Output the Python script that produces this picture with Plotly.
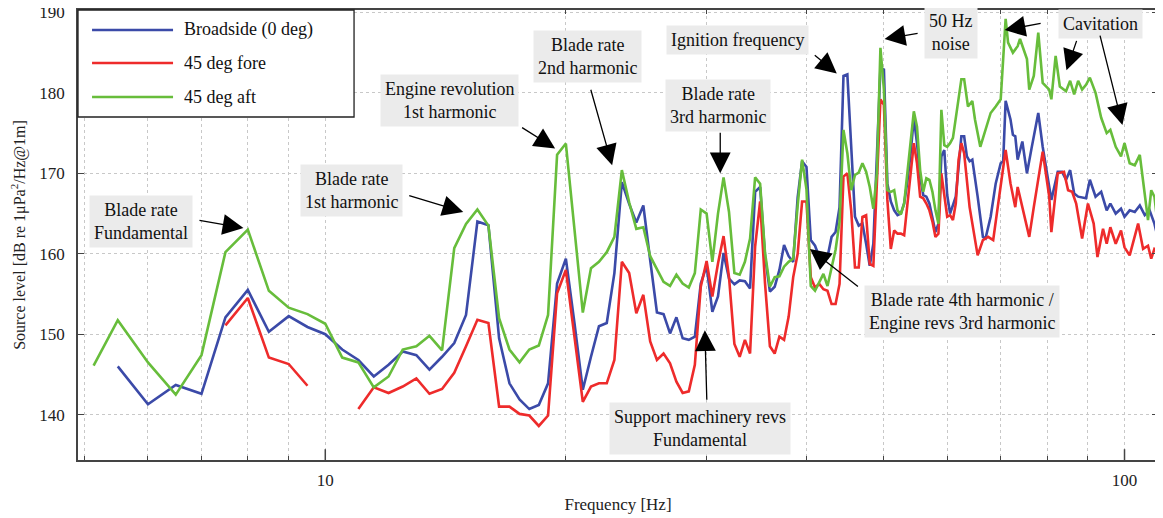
import math
import plotly.graph_objects as go

# ---------------- data ----------------
aft_freq = [5.13, 5.5, 6.0, 6.5, 7.0, 7.5, 8.0, 8.5, 9.0, 9.5, 10.0, 10.5, 11, 11.5, 12, 12.5, 13, 13.5, 14, 14.5,
            15, 15.5, 16, 16.5, 17, 17.5, 18, 18.5, 19, 19.5, 20, 20.5, 21, 21.5, 22, 22.5, 23, 23.5, 24, 24.5,
            25, 25.5, 26, 26.5, 27, 27.5, 28, 28.5, 29, 29.5, 30, 30.5, 31, 31.5, 32, 32.5, 33, 33.5, 34, 34.5,
            35, 35.5, 36, 36.5, 37, 37.5, 38, 38.5, 39, 39.5, 40, 40.5, 41, 41.5, 42, 42.5, 43, 43.5, 44, 44.5,
            45, 45.5, 46, 46.5, 47, 47.5, 48, 48.5, 49, 49.5, 50, 50.5, 51, 51.5, 52, 52.5, 53, 53.5, 54, 54.5,
            55, 55.5, 56, 56.5, 57, 57.5, 58, 58.5, 59, 59.5, 60, 60.5, 61, 61.5, 62, 62.5, 63,
            63.7, 64.5, 65, 66, 66.5, 68, 69, 70, 71, 71.5, 72.5, 73.5, 74, 75.5, 76, 77, 78, 79, 80.5, 81, 82,
            83, 84.5, 85.5, 86.5, 87.5, 88.5, 89.5, 90.5, 92, 93.5, 95, 96, 97.5, 99, 100, 101.5, 103, 104.5,
            106, 107, 108, 109, 110]
aft_level = [146.1, 151.75, 146.5, 142.5, 147.4, 160.2, 163.0, 155.4, 153.3, 152.5, 151.3, 147.1, 146.5, 143.4, 144.75, 148.1, 148.5, 149.8, 148.0, 160.7,
             163.7, 165.5, 163.5, 152.0, 148.1, 146.5, 148.1, 148.6, 152.4, 172.3, 173.7, 163.0, 152.7, 158.2, 159.0, 160.2, 162.1, 170.4, 166.4, 163.1,
             163.3, 159.7, 158.1, 156.5, 156.0, 157.4, 156.3, 155.8, 157.6, 165.5, 165.0, 159.0, 165.0, 169.5, 165.2, 157.6, 157.4, 159.0, 161.9, 169.5,
             168.7, 160.1, 155.9, 157.1, 157.2, 158.4, 159.0, 159.4, 166.0, 171.7, 168.0, 156.0, 155.4, 156.5, 157.5, 156.0, 158.5, 160.5, 164.0, 175.4,
             172.5, 167.9, 169.8, 170.1, 171.25, 170.2, 168.3, 165.6, 170.0, 185.6, 180.4, 167.9, 167.7, 167.9, 165.4, 164.9, 166.25, 170.0, 173.75, 177.7,
             175.8, 170.4, 167.7, 169.4, 169.2, 167.7, 165.4, 163.75, 177.9, 173.5, 173.3, 173.75, 174.4, 176.7, 179.6, 181.7, 181.7,
             178.3, 179.0, 176.7, 173.3, 174.4, 177.5, 178.3, 179.2, 189.2, 186.25, 185.0, 185.8, 186.7, 184.2, 180.4, 182.1, 187.5, 181.25, 180.4, 179.2, 184.6,
             180.8, 180.2, 181.5, 179.8, 181.5, 180.4, 181.0, 181.9, 180.0, 176.9, 175.0, 175.4, 173.3, 172.1, 173.75, 171.25, 171.0, 172.3,
             167.1, 164.2, 167.9, 167.1, 163.75]

broad_freq = [5.5, 6.0, 6.5, 7.0, 7.5, 8.0, 8.5, 9.0, 9.5, 10.0, 10.5, 11, 11.5, 12, 12.5, 13, 13.5, 14, 14.5,
              15, 15.5, 16, 16.5, 17, 17.5, 18, 18.5, 19, 19.5, 20, 20.5, 21, 21.5, 22, 22.5, 23, 23.5, 24, 24.5,
              25, 25.5, 26, 26.5, 27, 27.5, 28, 28.5, 29, 29.5, 30, 30.5, 31, 31.5, 32, 32.5, 33, 33.5, 34, 34.5,
              35, 35.5, 36, 36.5, 37, 37.5, 38, 38.5, 39, 39.5, 40, 40.5, 41, 41.5, 42, 42.5, 43, 43.5, 44, 44.5,
              45, 45.5, 46, 46.5, 47, 47.5, 48, 48.5, 49, 49.5, 50, 50.5, 51, 51.5, 52, 52.5, 53, 53.5, 54, 54.5,
              55, 55.5, 56, 56.5, 57, 57.5, 58, 58.5, 59, 59.5, 60, 60.5, 61, 61.5, 62, 62.5, 63,
              63.5, 64, 64.5, 65.5, 66.5, 67, 68, 69, 70, 70.5, 71, 72, 72.5, 73, 73.5, 74.5, 75.5, 76.5, 78, 79,
              80.5, 81, 82.5, 83.5, 84.5, 85.5, 86.5, 87.5, 89.5, 90.5, 92, 93.5, 95, 96, 97.5, 99, 100, 101.5,
              103, 104.5, 106, 107.5, 109, 110]
broad_level = [146.0, 141.3, 143.7, 142.6, 152.1, 155.5, 150.3, 152.25, 150.9, 150.0, 148.1, 146.8, 144.75, 146.2, 147.85, 147.4, 145.6, 147.2, 148.9,
               152.4, 164.0, 163.55, 149.5, 143.9, 141.9, 140.7, 141.2, 143.9, 156.3, 159.4, 151.4, 143.1, 147.2, 151.0, 151.4, 157.6, 168.9, 166.2, 163.9,
               166.0, 159.2, 152.7, 152.5, 150.1, 152.1, 149.5, 149.3, 149.7, 156.3, 158.5, 152.8, 154.7, 160.1, 156.9, 156.2, 156.7, 156.6, 155.7, 167.7,
               168.3, 159.7, 155.3, 155.9, 158.0, 161.1, 159.7, 159.0, 167.0, 171.5, 170.8, 161.7, 161.0, 159.6, 159.6, 159.6, 162.1, 162.7, 165.8, 182.1,
               182.3, 172.9, 164.6, 163.5, 163.75, 161.25, 158.5, 161.25, 171.7, 183.1, 182.9, 168.75, 166.5, 165.4, 164.8, 165.0, 166.25, 169.0, 172.5, 176.9,
               173.75, 169.6, 167.3, 167.1, 166.25, 164.6, 162.7, 163.75, 172.1, 172.9, 167.3, 165.0, 166.0, 167.1, 170.8, 174.6, 174.6,
               172.1, 171.5, 171.7, 167.1, 162.1, 161.9, 164.6, 168.75, 171.25, 171.5, 179.0, 176.7, 174.8, 174.6, 171.7, 173.96, 170.0, 173.1, 177.5, 173.3,
               168.3, 166.7, 170.2, 170.2, 169.2, 170.4, 167.5, 167.1, 166.9, 169.2, 167.1, 167.7, 165.4, 166.25, 165.0, 165.6, 164.6, 165.4,
               165.2, 166.0, 164.8, 165.4, 163.75, 162.1]

fore_freq = [7.5, 8.0, 8.5, 9.0, 9.5, 10.25, 11, 11.5, 12, 12.5, 13, 13.5, 14, 14.5,
             15, 15.5, 16, 16.5, 17, 17.5, 18, 18.5, 19, 19.5, 20, 20.5, 21, 21.5, 22, 22.5, 23, 23.5, 24, 24.5,
             25, 25.5, 26, 26.5, 27, 27.5, 28, 28.5, 29, 29.5, 30, 30.5, 31, 31.5, 32, 32.5, 33, 33.5, 34, 34.5,
             35, 35.5, 36, 36.5, 37, 37.5, 38, 38.5, 39, 39.5, 40, 40.5, 41, 41.5, 42, 42.5, 43, 43.5, 44, 44.5,
             45, 45.5, 46, 46.5, 47, 47.5, 48, 48.5, 49, 49.5, 50, 50.5, 51, 51.5, 52, 52.5, 53, 53.5, 54, 54.5,
             55, 55.5, 56, 56.5, 57, 57.5, 58, 58.5, 59, 59.5, 60, 60.5, 61, 61.5, 62, 62.5, 63,
             64, 64.5, 65.5, 66.5, 67.5, 68.5, 70, 71, 72, 73, 73.5, 74.5, 76, 77, 78, 79, 80.5, 81, 82.5, 84,
             85, 86, 87, 88.5, 90, 91.5, 92.5, 94, 95, 96, 97.5, 99, 100, 101.5, 104, 105.5, 107, 108, 109, 110]
fore_level = [151.1, 154.5, 147.1, 146.3, 143.6, None, 140.7, 143.4, 142.7, 143.5, 144.5, 142.6, 143.2, 145.2,
              148.5, 151.8, 151.4, 141.0, 141.0, 140.1, 139.9, 138.6, 139.9, 155.1, 158.0, 149.7, 141.6, 143.5, 143.9, 143.9, 146.8, 159.0, 157.6, 152.6,
              154.9, 149.1, 146.8, 147.6, 146.4, 144.1, 142.7, 142.9, 146.2, 155.9, 159.1, 154.7, 158.8, 162.2, 157.1, 148.8, 147.2, 149.3, 147.6, 160.9,
              166.5, 156.3, 148.5, 147.6, 149.7, 149.3, 152.2, 157.1, 160.0, 166.5, 166.5, 157.1, 155.8, 156.25, 155.6, 155.4, 153.75, 153.75, 156.25, 169.6,
              170.0, 165.4, 158.3, 158.3, 164.6, 164.8, 158.75, 158.5, 168.75, 179.2, 178.5, 166.7, 160.6, 162.9, 162.5, 162.5, 162.3, 166.0, 170.4, 173.75,
              171.25, 167.1, 166.9, 166.25, 165.4, 164.0, 162.1, 162.5, 170.0, 167.3, 164.6, 164.8, 164.2, 166.25, 171.7, 173.75, 172.5,
              165.8, 163.75, 159.8, 161.7, 162.1, 161.7, 168.75, 172.9, 168.75, 165.8, 168.3, 165.8, 162.1, 165.8, 169.2, 172.7, 167.1, 162.7, 170.0, 170.2,
              167.9, 167.7, 166.25, 161.9, 166.25, 163.75, 159.6, 163.1, 161.25, 163.3, 161.25, 162.9, 160.8, 159.8, 163.75, 160.6, 161.0, 159.4, 160.6, 160.4]

series_names = ["Broadside (0 deg)", "45 deg fore", "45 deg aft"]
series_colors = ["#3b4aa8", "#ee2b2b", "#67bd3b"]

x_tick_vals = [5, 6, 7, 8, 9, 10, 20, 30, 40, 50, 60, 70, 80, 90, 100]
x_tick_text = ["", "", "", "", "", "10", "", "", "", "", "", "", "", "", "100"]
y_tick_vals = [140, 150, 160, 170, 180, 190]

# annotation labels: text, paper x, paper y (centres)
labels = [
    ("Blade rate<br>Fundamental", 0.0583, 0.531),
    ("Blade rate<br>1st harmonic", 0.2537, 0.598),
    ("Engine revolution<br>1st harmonic", 0.3444, 0.798),
    ("Blade rate<br>2nd harmonic", 0.4722, 0.8956),
    ("Blade rate<br>3rd harmonic", 0.5926, 0.7867),
    ("Ignition frequency", 0.6111, 0.9333),
    ("50 Hz<br>noise", 0.8083, 0.949),
    ("Cavitation", 0.9463, 0.969),
    ("Blade rate 4th harmonic /<br>Engine revs 3rd harmonic", 0.8185, 0.329),
    ("Support machinery revs<br>Fundamental", 0.5759, 0.0689),
]
# arrows: tip frequency [Hz], tip level [dB], tail offset px (dx, dy)
arrows = [
    (7.90, 163.2, -46, -8),
    (14.88, 165.2, -56, -17),
    (19.39, 173.1, -35, -22),
    (22.85, 171.0, -22, -78),
    (31.2, 170.0, 0, -43),
    (43.65, 182.4, -24, -20),
    (50.1, 186.7, 35, -6),
    (70.8, 187.8, 38, -7),
    (84.6, 182.8, 11, -32),
    (99.4, 176.0, -23, -92),
    (40.4, 160.6, 50, 39),
    (29.85, 150.5, 2, 72),
]

# legend layout (paper coords)
legend_box = (0.0, 0.7622, 0.2556, 1.0)
legend_rows = [0.9556, 0.8822, 0.8067]
legend_line_x = (0.013, 0.088)
legend_text_x = 0.0963

x_range = [0.6906, 2.0419]
y_range = [134.37, 190.3]

SERIF = "Liberation Serif, Times New Roman, serif"

fig = go.Figure()
for name, fx, lv, col in [
    (series_names[0], broad_freq, broad_level, series_colors[0]),
    (series_names[1], fore_freq, fore_level, series_colors[1]),
    (series_names[2], aft_freq, aft_level, series_colors[2]),
]:
    fig.add_trace(go.Scatter(x=fx, y=lv, mode="lines", name=name, showlegend=False,
                             line=dict(color=col, width=2.6), connectgaps=False))

for txt, px, py in labels:
    fig.add_annotation(text=txt, xref="paper", yref="paper", x=px, y=py, xanchor="center",
                       yanchor="middle", showarrow=False,
                       font=dict(family=SERIF, size=18, color="#111"), bgcolor="#ebebeb",
                       borderpad=4, align="center")

for f, v, dx, dy in arrows:
    fig.add_annotation(text=" ", x=math.log10(f), y=v, xref="x", yref="y", ax=dx, ay=dy,
                       showarrow=True, arrowhead=2, arrowsize=3.2, arrowwidth=1.3,
                       arrowcolor="#000", standoff=0, font=dict(size=2))

# longer major ticks at 10 and 100
for t in [10, 100]:
    xp = (math.log10(t) - x_range[0]) / (x_range[1] - x_range[0])
    fig.add_shape(type="line", xref="paper", yref="paper", x0=xp, x1=xp, y0=0, y1=0.024,
                  line=dict(color="#444", width=1.5))
    fig.add_shape(type="line", xref="paper", yref="paper", x0=xp, x1=xp, y0=1, y1=0.976,
                  line=dict(color="#444", width=1.5))

# custom legend
fig.add_shape(type="rect", xref="paper", yref="paper", x0=legend_box[0], y0=legend_box[1],
              x1=legend_box[2], y1=legend_box[3], line=dict(color="#222", width=1.3),
              fillcolor="white", layer="above")
for name, col, yy in zip(series_names, series_colors, legend_rows):
    fig.add_shape(type="line", xref="paper", yref="paper", x0=legend_line_x[0], x1=legend_line_x[1],
                  y0=yy, y1=yy, line=dict(color=col, width=2.6), layer="above")
    fig.add_annotation(text=name, xref="paper", yref="paper", x=legend_text_x, y=yy,
                       xanchor="left", yanchor="middle", showarrow=False,
                       font=dict(family=SERIF, size=18, color="#111"))

# the page body has an 8px margin, so the figure is made 8px smaller and the
# margins are shifted so that the plot area lands where the reference has it
fig.update_layout(
    width=1155, height=510,
    margin=dict(l=70, r=5, t=2, b=58),
    plot_bgcolor="white", paper_bgcolor="white",
    font=dict(family=SERIF, size=17, color="#222"),
    showlegend=False,
    xaxis=dict(type="log", range=x_range, tickvals=x_tick_vals, ticktext=x_tick_text,
               ticks="inside", ticklen=4, tickcolor="#444", showline=True, linecolor="#444",
               linewidth=1.5, mirror="ticks", showgrid=True, gridcolor="#c8c8c8", griddash="dot",
               gridwidth=1, zeroline=False, ticklabelstandoff=4, automargin=False,
               title=dict(text="Frequency [Hz]", font=dict(family=SERIF, size=17), standoff=9)),
    yaxis=dict(range=y_range, tickvals=y_tick_vals, ticks="inside", ticklen=6, tickcolor="#444",
               showline=True, linecolor="#444", linewidth=1.5, mirror="ticks", showgrid=True,
               gridcolor="#c8c8c8", griddash="dot", gridwidth=1, zeroline=False, ticklabelstandoff=8,
               automargin=False, ticklabeloverflow="allow",
               title=dict(text="Source level [dB re 1μPa<sup>2</sup>/Hz@1m]",
                          font=dict(family=SERIF, size=16), standoff=10)),
)

fig.write_html("out.html")
